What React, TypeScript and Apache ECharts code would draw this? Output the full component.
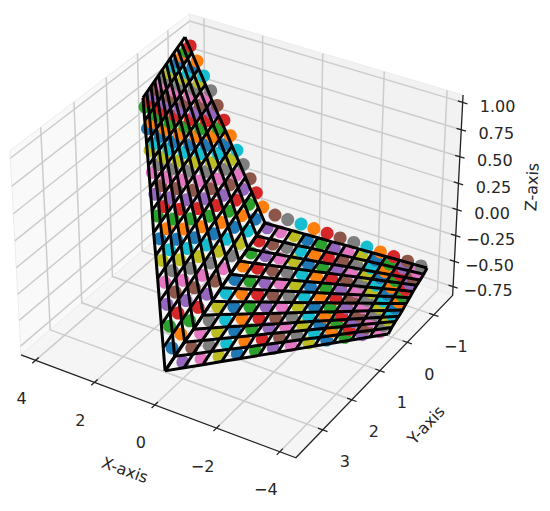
import React, { useEffect, useRef } from "react";
import * as echarts from "echarts";

const xTicks = [4, 2, 0, -2, -4];
const yTicks = [-1, 0, 1, 2, 3];
const zTicks = [1, 0.75, 0.5, 0.25, 0, -0.25, -0.5, -0.75];
const zTickLabels = ["1.00", "0.75", "0.50", "0.25", "0.00", "−0.25", "−0.50", "−0.75"];
const xLim = [-4.5, 4.5];
const yLim = [-1.73, 3.9];
const zLim = [-0.836, 1.067];
const colorCycle = ["#1f77b4", "#ff7f0e", "#2ca02c", "#d62728", "#9467bd", "#8c564b", "#e377c2", "#7f7f7f", "#bcbd22", "#17becf"];

// First sheet: height by row, x and y by row and column
const wire1Z = [-.55, -.42, -.29, -.16, -.03, .10, .23, .35, .48, .61, .74, .87, 1.0];
const dots1Z = [-.55, -.41, -.27, -.13, .01, .15, .30, .44, .58, .72, .86, 1.0];
const wire1X = [
  [-.15, -.01, .12, .26, .40, .54, .67, .81, .95, 1.09, 1.22, 1.36],
  [.13, .26, .40, .53, .66, .79, .93, 1.06, 1.19, 1.32, 1.46, 1.59],
  [.41, .54, .67, .79, .92, 1.05, 1.18, 1.31, 1.44, 1.56, 1.69, 1.82],
  [.69, .81, .94, 1.06, 1.18, 1.30, 1.43, 1.55, 1.67, 1.79, 1.92, 2.04],
  [.97, 1.09, 1.21, 1.32, 1.44, 1.56, 1.68, 1.80, 1.92, 2.03, 2.15, 2.27],
  [1.25, 1.36, 1.48, 1.59, 1.70, 1.82, 1.93, 2.05, 2.16, 2.27, 2.39, 2.50],
  [1.54, 1.65, 1.76, 1.86, 1.97, 2.08, 2.19, 2.30, 2.41, 2.51, 2.62, 2.73],
  [1.82, 1.92, 2.03, 2.13, 2.23, 2.34, 2.44, 2.55, 2.65, 2.75, 2.86, 2.96],
  [2.10, 2.20, 2.30, 2.40, 2.50, 2.60, 2.69, 2.79, 2.89, 2.99, 3.09, 3.19],
  [2.38, 2.47, 2.57, 2.66, 2.75, 2.85, 2.94, 3.04, 3.13, 3.22, 3.32, 3.41],
  [2.66, 2.75, 2.84, 2.93, 3.02, 3.11, 3.19, 3.28, 3.37, 3.46, 3.55, 3.64],
  [2.94, 3.02, 3.11, 3.19, 3.28, 3.36, 3.45, 3.53, 3.62, 3.70, 3.79, 3.87],
  [3.22, 3.30, 3.38, 3.46, 3.54, 3.62, 3.70, 3.78, 3.86, 3.94, 4.02, 4.10],
];
const wire1Y = [
  [3.70, 3.26, 2.81, 2.37, 1.93, 1.48, 1.04, .59, .15, -.29, -.74, -1.18],
  [3.48, 3.06, 2.63, 2.21, 1.79, 1.36, .94, .51, .09, -.33, -.76, -1.18],
  [3.26, 2.86, 2.45, 2.05, 1.65, 1.24, .84, .43, .03, -.37, -.78, -1.18],
  [3.04, 2.66, 2.27, 1.89, 1.51, 1.12, .74, .36, -.03, -.41, -.80, -1.18],
  [2.82, 2.46, 2.09, 1.73, 1.37, 1.00, .64, .28, -.09, -.45, -.82, -1.18],
  [2.60, 2.26, 1.91, 1.57, 1.23, .88, .54, .19, -.15, -.49, -.84, -1.18],
  [2.38, 2.06, 1.73, 1.41, 1.09, .76, .44, .11, -.21, -.53, -.86, -1.18],
  [2.15, 1.85, 1.54, 1.24, .94, .64, .33, .03, -.27, -.57, -.88, -1.18],
  [1.93, 1.65, 1.36, 1.08, .80, .52, .23, -.05, -.33, -.61, -.90, -1.18],
  [1.71, 1.45, 1.18, .92, .66, .40, .13, -.13, -.39, -.65, -.92, -1.18],
  [1.49, 1.25, 1.00, .76, .52, .28, .03, -.21, -.45, -.69, -.94, -1.18],
  [1.27, 1.05, .82, .60, .38, .16, -.07, -.29, -.51, -.73, -.96, -1.18],
  [1.05, .85, .64, .44, .24, .04, -.17, -.37, -.57, -.77, -.98, -1.18],
];
const dots1X = [
  [.27, .42, .56, .71, .85, 1.00, 1.14, 1.29, 1.43, 1.58, 1.72, 1.87],
  [.51, .65, .79, .93, 1.07, 1.21, 1.34, 1.48, 1.62, 1.76, 1.90, 2.04],
  [.75, .88, 1.01, 1.15, 1.28, 1.41, 1.54, 1.67, 1.80, 1.94, 2.07, 2.20],
  [.99, 1.12, 1.24, 1.37, 1.49, 1.62, 1.74, 1.87, 1.99, 2.12, 2.24, 2.37],
  [1.23, 1.35, 1.47, 1.58, 1.70, 1.82, 1.94, 2.06, 2.18, 2.29, 2.41, 2.53],
  [1.47, 1.58, 1.69, 1.81, 1.92, 2.03, 2.14, 2.25, 2.36, 2.48, 2.59, 2.70],
  [1.70, 1.81, 1.91, 2.02, 2.12, 2.23, 2.33, 2.44, 2.54, 2.65, 2.75, 2.86],
  [1.94, 2.04, 2.14, 2.24, 2.34, 2.44, 2.53, 2.63, 2.73, 2.83, 2.93, 3.03],
  [2.18, 2.27, 2.36, 2.46, 2.55, 2.64, 2.73, 2.82, 2.91, 3.01, 3.10, 3.19],
  [2.42, 2.51, 2.59, 2.68, 2.76, 2.85, 2.93, 3.02, 3.10, 3.19, 3.27, 3.36],
  [2.66, 2.74, 2.82, 2.89, 2.97, 3.05, 3.13, 3.21, 3.29, 3.36, 3.44, 3.52],
  [2.90, 2.97, 3.04, 3.12, 3.19, 3.26, 3.33, 3.40, 3.47, 3.55, 3.62, 3.69],
];
const dots1Y = [
  [3.07, 2.64, 2.22, 1.79, 1.36, .93, .51, .08, -.35, -.78, -1.20, -1.63],
  [2.91, 2.50, 2.10, 1.69, 1.28, .87, .47, .06, -.35, -.76, -1.16, -1.57],
  [2.75, 2.36, 1.98, 1.59, 1.20, .81, .43, .04, -.35, -.74, -1.12, -1.51],
  [2.58, 2.21, 1.85, 1.48, 1.12, .75, .39, .02, -.34, -.71, -1.07, -1.44],
  [2.42, 2.07, 1.73, 1.38, 1.04, .69, .35, .00, -.34, -.69, -1.03, -1.38],
  [2.26, 1.93, 1.61, 1.28, .96, .63, .31, -.02, -.34, -.67, -.99, -1.32],
  [2.10, 1.79, 1.49, 1.18, .88, .57, .27, -.04, -.34, -.65, -.95, -1.26],
  [1.94, 1.65, 1.37, 1.08, .80, .51, .23, -.06, -.34, -.63, -.92, -1.20],
  [1.78, 1.51, 1.25, .98, .72, .45, .19, -.08, -.34, -.61, -.88, -1.14],
  [1.61, 1.37, 1.12, .88, .64, .39, .15, -.10, -.34, -.58, -.83, -1.07],
  [1.45, 1.23, 1.00, .78, .56, .33, .11, -.12, -.34, -.56, -.79, -1.01],
  [1.29, 1.09, .88, .68, .48, .27, .07, -.14, -.34, -.55, -.75, -.95],
];

// Second sheet: height by column, x and y by row and column
const sheet2Z = [-.75, -.73, -.71, -.70, -.68, -.66, -.64, -.62, -.60, -.59, -.57, -.55];
const wire2X = [
  [.39, .48, .57, .65, .74, .83, .92, 1.01, 1.10, 1.18, 1.27, 1.36],
  [.02, .10, .18, .27, .35, .43, .51, .59, .67, .76, .84, .92],
  [-.35, -.27, -.20, -.12, -.04, .03, .11, .18, .26, .34, .41, .49],
  [-.72, -.65, -.58, -.51, -.44, -.37, -.30, -.23, -.16, -.09, -.02, .05],
  [-1.09, -1.03, -.96, -.90, -.83, -.77, -.70, -.64, -.57, -.51, -.44, -.38],
  [-1.46, -1.40, -1.34, -1.29, -1.23, -1.17, -1.11, -1.05, -.99, -.94, -.88, -.82],
  [-1.83, -1.78, -1.73, -1.67, -1.62, -1.57, -1.52, -1.47, -1.42, -1.36, -1.31, -1.26],
  [-2.19, -2.15, -2.10, -2.05, -2.01, -1.96, -1.92, -1.87, -1.83, -1.78, -1.74, -1.69],
  [-2.56, -2.52, -2.48, -2.44, -2.40, -2.36, -2.33, -2.29, -2.25, -2.21, -2.17, -2.13],
  [-2.93, -2.90, -2.86, -2.83, -2.80, -2.76, -2.73, -2.69, -2.66, -2.63, -2.59, -2.56],
  [-3.30, -3.27, -3.25, -3.22, -3.19, -3.16, -3.14, -3.11, -3.08, -3.05, -3.03, -3.00],
  [-3.67, -3.65, -3.63, -3.60, -3.58, -3.56, -3.54, -3.52, -3.50, -3.47, -3.45, -3.43],
  [-4.04, -4.02, -4.01, -3.99, -3.98, -3.96, -3.95, -3.93, -3.92, -3.90, -3.89, -3.87],
];
const wire2Y = [
  [3.19, 2.79, 2.40, 2.00, 1.60, 1.20, .81, .41, .01, -.39, -.78, -1.18],
  [2.94, 2.56, 2.19, 1.81, 1.43, 1.06, .68, .31, -.07, -.45, -.82, -1.20],
  [2.69, 2.33, 1.98, 1.62, 1.27, .91, .56, .20, -.15, -.51, -.86, -1.22],
  [2.44, 2.11, 1.77, 1.44, 1.10, .77, .43, .10, -.24, -.57, -.90, -1.24],
  [2.19, 1.88, 1.56, 1.25, .94, .62, .31, -.01, -.32, -.63, -.95, -1.26],
  [1.94, 1.65, 1.35, 1.06, .77, .48, .18, -.11, -.40, -.69, -.99, -1.28],
  [1.69, 1.42, 1.14, .87, .60, .33, .05, -.22, -.49, -.76, -1.04, -1.31],
  [1.44, 1.19, .94, .68, .43, .18, -.07, -.32, -.57, -.83, -1.08, -1.33],
  [1.19, .96, .73, .50, .27, .04, -.20, -.43, -.66, -.89, -1.12, -1.35],
  [.94, .73, .52, .31, .10, -.11, -.32, -.53, -.74, -.95, -1.16, -1.37],
  [.69, .50, .31, .12, -.07, -.26, -.44, -.63, -.82, -1.01, -1.20, -1.39],
  [.44, .27, .10, -.06, -.23, -.40, -.57, -.74, -.90, -1.07, -1.24, -1.41],
  [.19, .04, -.10, -.25, -.40, -.55, -.69, -.84, -.99, -1.14, -1.28, -1.43],
];
const dots2X = [
  [.19, .29, .40, .50, .60, .71, .81, .92, 1.02, 1.12, 1.23, 1.33],
  [-.17, -.07, .02, .12, .21, .31, .40, .50, .59, .69, .78, .88],
  [-.53, -.44, -.36, -.27, -.18, -.10, -.01, .07, .16, .25, .33, .42],
  [-.90, -.82, -.74, -.66, -.58, -.50, -.43, -.35, -.27, -.19, -.11, -.03],
  [-1.26, -1.19, -1.12, -1.05, -.98, -.91, -.84, -.77, -.70, -.63, -.56, -.49],
  [-1.62, -1.56, -1.50, -1.43, -1.37, -1.31, -1.25, -1.19, -1.13, -1.06, -1.00, -.94],
  [-1.98, -1.93, -1.87, -1.82, -1.77, -1.72, -1.66, -1.61, -1.56, -1.51, -1.45, -1.40],
  [-2.34, -2.30, -2.25, -2.21, -2.16, -2.12, -2.07, -2.03, -1.98, -1.94, -1.89, -1.85],
  [-2.70, -2.66, -2.63, -2.59, -2.56, -2.52, -2.49, -2.45, -2.42, -2.38, -2.35, -2.31],
  [-3.07, -3.04, -3.01, -2.99, -2.96, -2.93, -2.90, -2.87, -2.84, -2.82, -2.79, -2.76],
  [-3.43, -3.41, -3.39, -3.37, -3.35, -3.33, -3.32, -3.30, -3.28, -3.26, -3.24, -3.22],
  [-3.79, -3.78, -3.77, -3.76, -3.75, -3.74, -3.72, -3.71, -3.70, -3.69, -3.68, -3.67],
];
const dots2Y = [
  [2.81, 2.42, 2.02, 1.63, 1.24, .85, .45, .06, -.33, -.72, -1.12, -1.51],
  [2.57, 2.20, 1.83, 1.46, 1.09, .72, .35, -.02, -.39, -.76, -1.13, -1.50],
  [2.34, 1.99, 1.64, 1.29, .94, .59, .25, -.10, -.45, -.80, -1.15, -1.50],
  [2.10, 1.77, 1.45, 1.12, .79, .47, .14, -.18, -.51, -.84, -1.16, -1.49],
  [1.86, 1.56, 1.25, .95, .65, .34, .04, -.27, -.57, -.87, -1.18, -1.48],
  [1.63, 1.35, 1.07, .78, .50, .22, -.06, -.34, -.62, -.91, -1.19, -1.47],
  [1.39, 1.13, .87, .61, .35, .09, -.17, -.43, -.69, -.95, -1.21, -1.47],
  [1.16, .92, .68, .45, .21, -.03, -.27, -.51, -.75, -.98, -1.22, -1.46],
  [.92, .70, .49, .27, .06, -.16, -.37, -.59, -.80, -1.02, -1.23, -1.45],
  [.68, .49, .29, .10, -.09, -.28, -.48, -.67, -.86, -1.05, -1.25, -1.44],
  [.45, .28, .11, -.07, -.24, -.41, -.58, -.75, -.92, -1.10, -1.27, -1.44],
  [.21, .06, -.08, -.23, -.38, -.53, -.67, -.82, -.97, -1.12, -1.28, -1.43],
];

const E = (33 * Math.PI) / 180, A = (121.5 * Math.PI) / 180;
const S = 2700, CX = 240.3, CY = 226;
const n = [Math.cos(E) * Math.cos(A), Math.cos(E) * Math.sin(A), Math.sin(E)];
const u = [-Math.sin(A), Math.cos(A), 0];
const v = [-Math.sin(E) * Math.cos(A), -Math.sin(E) * Math.sin(A), Math.cos(E)];
const dot = (a: number[], b: number[]) => a[0] * b[0] + a[1] * b[1] + a[2] * b[2];
const box = (x: number, y: number, z: number) => [
  ((x - (xLim[0] + xLim[1]) / 2) / (xLim[1] - xLim[0])) * 1.1905,
  ((y - (yLim[0] + yLim[1]) / 2) / (yLim[1] - yLim[0])) * 1.1905,
  ((z - (zLim[0] + zLim[1]) / 2) / (zLim[1] - zLim[0])) * 0.8929,
];
const project = (x: number, y: number, z: number) => {
  const P = box(x, y, z);
  const d = 10 - dot(n, P);
  return [CX + (S * dot(u, P)) / d, CY - (S * dot(v, P)) / d];
};

function App() {
  const ref = useRef<HTMLDivElement>(null);
  useEffect(() => {
    document.body.style.margin = "0";
    const chart = echarts.init(ref.current!, undefined, { renderer: "svg" });
    const [x0, x1] = xLim, [y0, y1] = yLim, [z0, z1] = zLim;
    const panes: [number[][], string][] = [
      [[[x1, y0, z0], [x1, y1, z0], [x1, y1, z1], [x1, y0, z1]], "#f9f9f9"],
      [[[x0, y0, z0], [x1, y0, z0], [x1, y0, z1], [x0, y0, z1]], "#f2f2f2"],
      [[[x0, y0, z0], [x1, y0, z0], [x1, y1, z0], [x0, y1, z0]], "#f5f5f5"],
    ];
    const grid: number[][][] = [];
    xTicks.forEach((t) => grid.push([[t, y1, z0], [t, y0, z0], [t, y0, z1]]));
    yTicks.forEach((t) => grid.push([[x0, t, z0], [x1, t, z0], [x1, t, z1]]));
    zTicks.forEach((t) => grid.push([[x1, y1, t], [x1, y0, t], [x0, y0, t]]));
    const axes: number[][][] = [[[x1, y1, z0], [x0, y1, z0], [x0, y0, z0], [x0, y0, z1]]];
    xTicks.forEach((t) => axes.push([[t, y1 - 0.1, z0], [t, y1 + 0.1, z0]]));
    yTicks.forEach((t) => axes.push([[x0 + 0.15, t, z0], [x0 - 0.15, t, z0]]));
    zTicks.forEach((t) => axes.push([[x0 + 0.15, y0, t], [x0 - 0.15, y0, t]]));

    const sheets = [
      { wx: wire1X, wy: wire1Y, dx: dots1X, dy: dots1Y, wz: (r: number, _c: number) => wire1Z[r], dz: (r: number, _c: number) => dots1Z[r] },
      { wx: wire2X, wy: wire2Y, dx: dots2X, dy: dots2Y, wz: (_r: number, c: number) => sheet2Z[c], dz: (_r: number, c: number) => sheet2Z[c] },
    ];
    const wires: number[][][] = [];
    const dotsData: any[] = [];
    let idx = 0;
    sheets.forEach((s) => {
      s.wx.forEach((row, r) => {
        wires.push(row.map((x, c) => [x, s.wy[r][c], s.wz(r, c)]));
      });
      s.wx[0].forEach((_, c) => {
        wires.push(s.wx.map((row, r) => [row[c], s.wy[r][c], s.wz(r, c)]));
      });
      s.dx.forEach((row, r) => {
        row.forEach((x, c) => {
          dotsData.push({
            value: project(x, s.dy[r][c], s.dz(r, c)),
            itemStyle: { color: colorCycle[idx % 10], opacity: 1 },
          });
          idx++;
        });
      });
    });

    const lineSeries = (lines: number[][][], stroke: string, w: number, z: number) => ({
      type: "custom", silent: true, clip: false, coordinateSystem: "cartesian2d", z,
      data: lines.map((_, i) => [i]),
      renderItem: (p: any, api: any) => ({
        type: "polyline",
        shape: { points: lines[p.dataIndex].map((q) => api.coord(project(q[0], q[1], q[2]))) },
        style: { stroke, lineWidth: w, fill: "none", lineJoin: "round" },
      }),
    });
    const paneSeries = {
      type: "custom", silent: true, clip: false, coordinateSystem: "cartesian2d", z: 1,
      data: panes.map((_, i) => [i]),
      renderItem: (p: any, api: any) => ({
        type: "polygon",
        shape: { points: panes[p.dataIndex][0].map((q) => api.coord(project(q[0], q[1], q[2]))) },
        style: { fill: panes[p.dataIndex][1], stroke: "#ececec", lineWidth: 1 },
      }),
    };
    const font = '16px "DejaVu Sans"';
    const txt = (t: string, x: number, y: number, rot = 0) => ({
      type: "text", x, y, rotation: (rot * Math.PI) / 180,
      style: { text: t, font, fill: "#262626", align: "center", verticalAlign: "middle" },
    });
    const labels: any[] = [];
    xTicks.forEach((t) => { const p = project(t, y1, z0); labels.push(txt(t < 0 ? "−" + -t : String(t), p[0] - 14, p[1] + 38)); });
    yTicks.forEach((t) => { const p = project(x0, t, z0); labels.push(txt(t < 0 ? "−" + -t : String(t), p[0] + 22, p[1] + 32)); });
    zTicks.forEach((t, i) => { const p = project(x0, y0, t); labels.push(txt(zTickLabels[i], p[0] + 35, p[1] + 4)); });
    labels.push(txt("X-axis", 125, 470, -20), txt("Y-axis", 426, 425, 47), txt("Z-axis", 532, 187, 87));

    chart.setOption({
      animation: false,
      grid: { left: 0, top: 0, right: 0, bottom: 0 },
      xAxis: { type: "value", min: 0, max: 550, show: false },
      yAxis: { type: "value", min: 0, max: 511, inverse: true, show: false },
      series: [
        paneSeries,
        lineSeries(grid, "#cccccc", 1.5, 2),
        lineSeries(axes, "#222222", 1.3, 3),
        { type: "scatter", silent: true, clip: false, z: 4, symbol: "circle", symbolSize: 13, data: dotsData },
        lineSeries(wires, "#000000", 3, 5),
      ],
      graphic: labels,
    });
    return () => chart.dispose();
  }, []);
  return <div ref={ref} style={{ width: 550, height: 511 }} />;
}
export default App;
